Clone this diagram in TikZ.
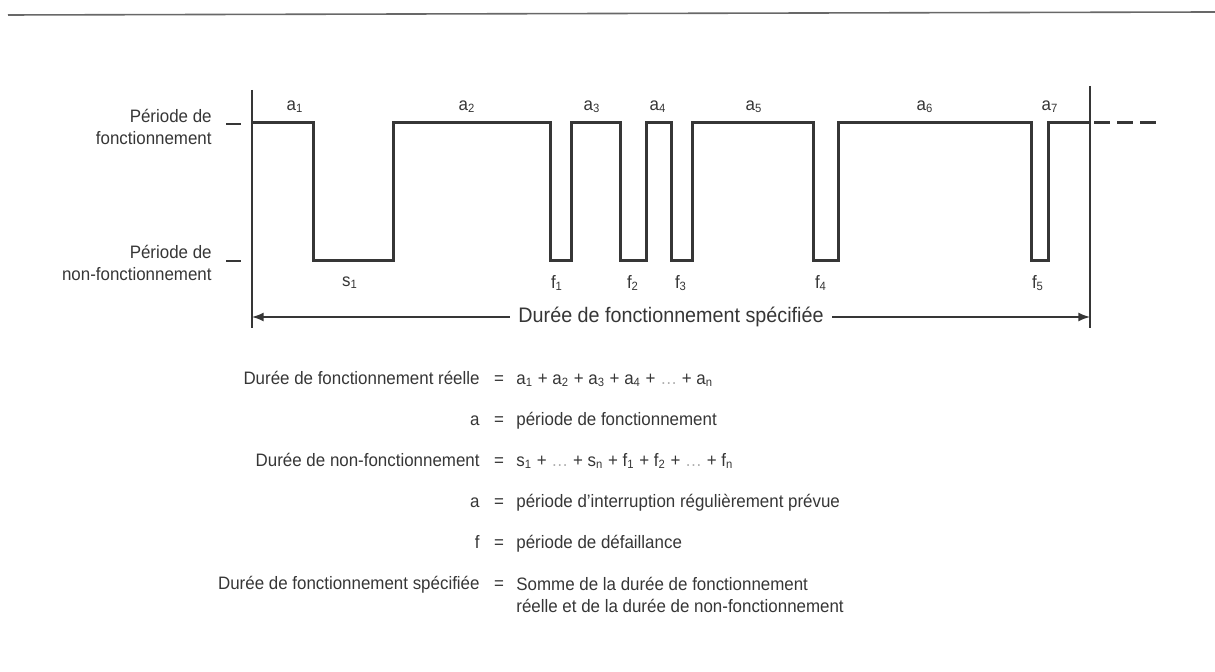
\documentclass[tikz,border=0pt]{standalone}
\usepackage{fontspec}
\setmainfont{Liberation Sans}[FakeStretch=0.94]
\definecolor{ink}{HTML}{363636}
\tikzset{
  wave/.style={line width=1.5pt, color=ink},
  axisline/.style={line width=0.6pt, color=ink},
  lbl/.style={text=ink, font=\fontsize{9}{11}\selectfont, inner sep=1pt},
}
\begin{document}
\begin{tikzpicture}[x=0.5pt, y=-0.5pt]
\useasboundingbox (0,0) rectangle (1215,672);
% rule at the top
\draw[line width=0.8pt, color=ink!75] (8,15) -- (1215,12);
% axes and levels
\coordinate (topL) at (252,90);
\coordinate (botL) at (252,328);
\coordinate (topR) at (1090,86);
\coordinate (botR) at (1090,328);
\draw[axisline] (topL) -- (botL);
\draw[axisline] (topR) -- (botR);
\node[lbl, anchor=east, align=right] (on) at (214,127) {Période de\\fonctionnement};
\node[lbl, anchor=east, align=right] (off) at (214,263) {Période de\\non-fonctionnement};
\draw[axisline] (226,124) -- (241,124);
\draw[axisline] (226,261) -- (241,261);
% signal
\draw[wave] (252,123) -| (313,261) -| (393,123) -| (550,261) -| (571,123) -| (620,261) -| (646,123)
  -| (671,261) -| (692,123) -| (813,261) -| (838,123) -| (1031,261) -| (1048,123) -- (topR |- 0,123);
\draw[wave, dash pattern=on 8pt off 3.5pt] (1094,123) -- (1158,123);
\foreach \x/\n in {295/1,467/2,592/3,658/4,754/5,925/6,1050/7}
  \node[lbl] (a\n) at (\x,107) {a\textsubscript{\n}};
\node[lbl] (s1) at (350,283) {s\textsubscript{1}};
\foreach \x/\n in {557/1,633/2,681/3,821/4,1038/5}
  \node[lbl] (f\n) at (\x,283) {f\textsubscript{\n}};
% specified duration
\coordinate (arL) at (252,317);
\coordinate (arR) at (1090,317);
\draw[latex-latex, line width=1pt, color=ink] (arL) -- (arR)
  node[lbl, pos=0.5, fill=white, inner xsep=4pt, font=\fontsize{10.5}{12}\selectfont] (spec) {Durée de fonctionnement spécifiée};
% legend
\foreach \y/\l/\v [count=\i] in {
  379/{Durée de fonctionnement réelle}/{a\textsubscript{1} + a\textsubscript{2} + a\textsubscript{3} + a\textsubscript{4} + {\color{ink!40}\dots} + a\textsubscript{n}},
  420/{a}/{période de fonctionnement},
  461/{Durée de non-fonctionnement}/{s\textsubscript{1} + {\color{ink!40}\dots} + s\textsubscript{n} + f\textsubscript{1} + f\textsubscript{2} + {\color{ink!40}\dots} + f\textsubscript{n}},
  502/{a}/{période d'interruption régulièrement prévue},
  543/{f}/{période de défaillance}}{
  \node[lbl, anchor=mid east] (key\i) at (482,\y) {\l};
  \node[lbl, anchor=mid] (eq\i) at (499,\y) {=};
  \node[lbl, anchor=mid west] (val\i) at (514,\y) {\v};
}
\node[lbl, anchor=mid east] (key6) at (482,584) {Durée de fonctionnement spécifiée};
\node[lbl, anchor=mid] (eq6) at (499,584) {=};
\node[lbl, anchor=north west, align=left] (val6) at (514,575) {Somme de la durée de fonctionnement\\réelle et de la durée de non-fonctionnement};
\end{tikzpicture}
\end{document}
